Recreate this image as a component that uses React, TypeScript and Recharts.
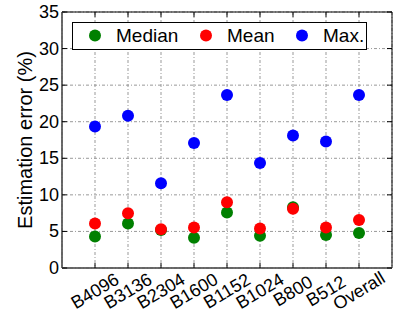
import React from "react"
import { ScatterChart, Scatter, XAxis, YAxis, CartesianGrid, ReferenceArea } from "recharts"

const categories = ["B4096", "B3136", "B2304", "B1600", "B1152", "B1024", "B800", "B512", "Overall"]
const medianErr = [4.3, 6.1, 5.2, 4.15, 7.6, 4.4, 8.3, 4.5, 4.8]
const meanErr = [6.1, 7.5, 5.3, 5.55, 9.0, 5.4, 8.1, 5.55, 6.55]
const maxErr = [19.35, 20.8, 11.6, 17.1, 23.65, 14.35, 18.1, 17.3, 23.65]
const yTicks = [0, 5, 10, 15, 20, 25, 30, 35]

const series = [
  { name: "Median", color: "#008000", values: medianErr },
  { name: "Mean", color: "#ff0000", values: meanErr },
  { name: "Max.", color: "#0000ff", values: maxErr },
]

const W = 406
const H = 320
const MARGIN = { top: 12, right: 14, bottom: 0, left: 0 }
const PLOT_RIGHT = W - MARGIN.right
const FONT = "'Liberation Sans', Arial, sans-serif"

const toPoints = (vals: number[]) => vals.map((v, i) => ({ x: i + 1, y: v }))

function XTick(props: any) {
  const { x, y, payload } = props
  const label = categories[payload.value - 1] ?? ""
  return (
    <g>
      <line x1={x} x2={x} y1={y} y2={y - 5} stroke="#000" />
      <line x1={x} x2={x} y1={MARGIN.top} y2={MARGIN.top + 5} stroke="#000" />
      <text
        x={x}
        y={y + 23}
        textAnchor="middle"
        dominantBaseline="central"
        transform={`rotate(-31, ${x}, ${y + 23})`}
        fontSize={18}
        fontFamily={FONT}
        fill="#000"
      >
        {label}
      </text>
    </g>
  )
}

function YTick(props: any) {
  const { x, y, payload } = props
  return (
    <g>
      <line x1={x} x2={x + 5} y1={y} y2={y} stroke="#000" />
      <line x1={PLOT_RIGHT} x2={PLOT_RIGHT - 5} y1={y} y2={y} stroke="#000" />
      <text x={x - 3} y={y} textAnchor="end" dominantBaseline="central" fontSize={18} fontFamily={FONT} fill="#000">
        {payload.value}
      </text>
    </g>
  )
}

function Dot(color: string) {
  return (props: any) => <circle cx={props.cx} cy={props.cy} r={6} fill={color} />
}

function LegendBox() {
  const xs = [23, 134, 230]
  return (
    <svg width={295} height={28} style={{ position: "absolute", left: 72, top: 22 }}>
      <rect x={0.5} y={0.5} width={294} height={27} fill="#fff" stroke="#000" />
      {series.map((s, i) => (
        <g key={s.name}>
          <circle cx={xs[i]} cy={13.5} r={6} fill={s.color} />
          <text x={xs[i] + 21} y={19.5} fontSize={19} fontFamily={FONT} fill="#000">
            {s.name}
          </text>
        </g>
      ))}
    </svg>
  )
}

export default function App() {
  return (
    <div style={{ position: "absolute", left: 0, top: 0, width: W, height: H, background: "#fff", fontFamily: FONT }}>
      <ScatterChart width={W} height={H} margin={MARGIN}>
        <CartesianGrid stroke="#999" strokeDasharray="3 2 1 2" />
        <XAxis
          type="number"
          dataKey="x"
          domain={[0, 10]}
          ticks={[1, 2, 3, 4, 5, 6, 7, 8, 9]}
          height={52}
          tickSize={0}
          tickMargin={0}
          tick={<XTick />}
          axisLine={{ stroke: "#666", strokeWidth: 1.5 }}
          allowDataOverflow
        />
        <YAxis
          type="number"
          dataKey="y"
          domain={[0, 35]}
          ticks={yTicks}
          width={62}
          tickSize={0}
          tickMargin={0}
          tick={<YTick />}
          axisLine={{ stroke: "#666", strokeWidth: 1.5 }}
          allowDataOverflow
          label={{
            value: "Estimation error (%)",
            angle: -90,
            position: "insideLeft",
            dx: 20,
            fontSize: 20,
            fontFamily: FONT,
            fill: "#000",
            style: { textAnchor: "middle" },
          }}
        />
        <ReferenceArea x1={0} x2={10} y1={0} y2={35} fill="none" stroke="#000" strokeWidth={1} />
        {series.map((s) => (
          <Scatter
            key={s.name}
            name={s.name}
            data={toPoints(s.values)}
            fill={s.color}
            shape={Dot(s.color)}
            isAnimationActive={false}
          />
        ))}
      </ScatterChart>
      <LegendBox />
    </div>
  )
}
